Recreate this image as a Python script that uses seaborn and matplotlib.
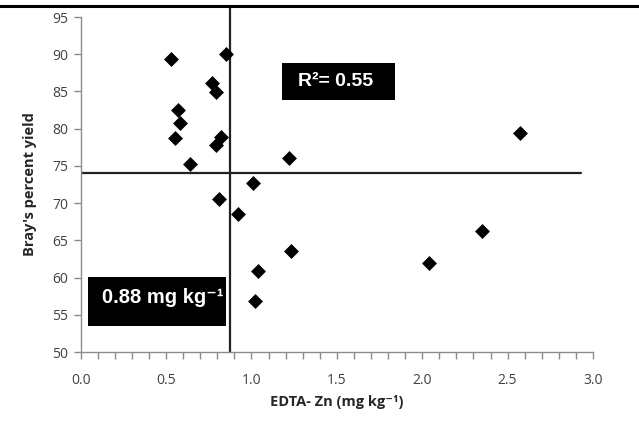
import numpy as np
import pandas as pd
import seaborn as sns
import matplotlib.pyplot as plt
from matplotlib.lines import Line2D
from matplotlib.patches import Rectangle
from matplotlib.ticker import MultipleLocator

# EDTA-Zn (mg/kg) vs Bray's percent yield
edta_zn = [0.53, 0.85, 0.77, 0.79, 0.57, 0.58, 0.55, 0.82, 0.79, 0.64,
           1.22, 1.01, 0.81, 0.92, 1.23, 1.04, 1.02, 2.04, 2.35, 2.57]
bray_yield = [89.4, 90.0, 86.2, 84.9, 82.5, 80.7, 78.8, 78.9, 77.8, 75.2,
              76.1, 72.7, 70.6, 68.5, 63.6, 60.9, 56.8, 61.9, 66.3, 79.4]
critical_zn = 0.875
mean_yield = 74.0
r2_label = "R²= 0.55"
crit_label = "0.88 mg kg⁻¹"

df = pd.DataFrame({"zn": edta_zn, "y": bray_yield})

sns.set_style("white")
plt.rcParams['font.family'] = ['Open Sans', 'DejaVu Sans']

fig = plt.figure(figsize=(6.39, 4.24), dpi=100)
ax = fig.add_axes([0.1263, 0.1698, 0.8017, 0.7901])

sns.scatterplot(data=df, x="zn", y="y", marker="D", color="black",
                s=58, edgecolor="black", linewidth=0, ax=ax, zorder=3)

# quadrant lines
ax.plot([0, 2.93], [mean_yield, mean_yield], color="#222222", lw=1.6, zorder=2)
ax.plot([critical_zn, critical_zn], [50, 96.35], color="#222222", lw=1.6,
        zorder=2, clip_on=False)

ax.set_xlim(0, 3.0)
ax.set_ylim(50, 95)
ax.xaxis.set_major_locator(MultipleLocator(0.5))
ax.xaxis.set_minor_locator(MultipleLocator(0.1))
ax.yaxis.set_major_locator(MultipleLocator(5))
ax.set_xticks(np.arange(0, 3.01, 0.5))
ax.set_xticklabels([f"{v:.1f}" for v in np.arange(0, 3.01, 0.5)])

for s in ["top", "right"]:
    ax.spines[s].set_visible(False)
for s in ["left", "bottom"]:
    ax.spines[s].set_color("#8c8c8c")
    ax.spines[s].set_linewidth(1.0)

ax.tick_params(axis="both", which="both", direction="out", color="#8c8c8c",
               labelcolor="#404040", labelsize=10)
ax.tick_params(axis="x", which="major", length=5, width=1, bottom=True, pad=10)
ax.tick_params(axis="x", which="minor", length=5, width=1, bottom=True)
ax.tick_params(axis="y", which="major", length=5, width=1, left=True, pad=4)

ax.set_xlabel("EDTA- Zn (mg kg⁻¹)", fontsize=10.5, fontweight="bold",
              color="#262626", labelpad=5)
ax.set_ylabel("Bray's percent yield", fontsize=10.5, fontweight="bold",
              color="#262626", labelpad=11)

# annotation boxes
box_font = ["Liberation Sans", "DejaVu Sans"]
ax.add_patch(Rectangle((1.18, 83.84), 0.662, 4.98, fc="black", ec="none", zorder=4))
ax.text(1.49, 86.3, r2_label, fontsize=14, fontweight="bold", color="white",
        family=box_font, ha="center", va="center", zorder=5)
ax.add_patch(Rectangle((0.043, 53.47), 0.809, 6.58, fc="black", ec="none", zorder=4))
ax.text(0.48, 57.3, crit_label, fontsize=14.5, fontweight="bold", color="white",
        family=box_font, ha="center", va="center", zorder=5)

# top border line of the figure
fig.add_artist(Line2D([0, 1], [0.985, 0.985], color="black", lw=2.2,
                      transform=fig.transFigure))

fig.savefig("out.png", dpi=100)
